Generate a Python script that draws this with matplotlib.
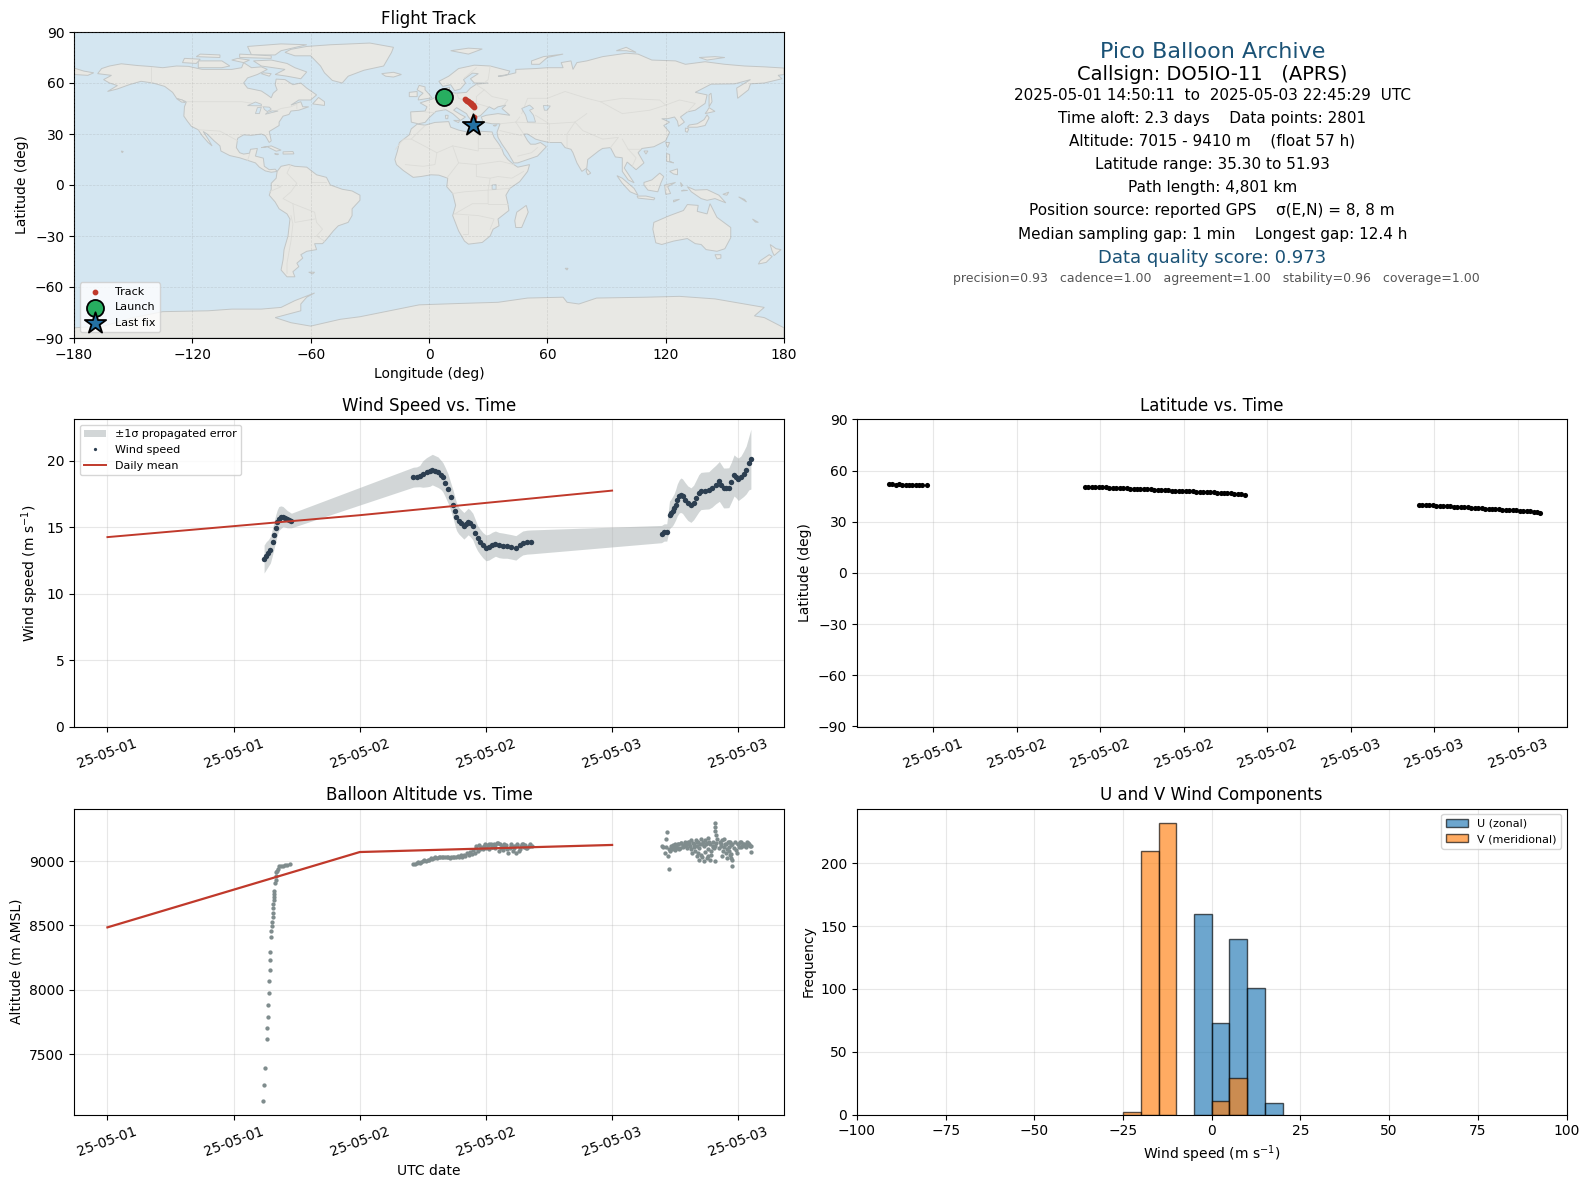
import matplotlib
matplotlib.use("Agg")
import matplotlib.pyplot as plt
import matplotlib.dates as mdates
import numpy as np
from datetime import datetime

# hours since 2025-05-01 00:00 UTC
wind_hours = [14.9,15.1,15.3,15.5,15.7,15.85,16.0,16.15,16.3,16.5,16.7,16.9,17.1,17.3,17.5,
              29.1,29.4,29.7,30.0,30.35,30.65,30.9,31.2,31.45,31.7,31.9,32.15,32.4,32.65,32.9,33.05,33.2,33.4,33.65,33.9,34.1,
              34.3,34.5,34.75,35.0,35.2,35.45,35.7,36.0,36.3,36.6,36.9,37.25,37.6,38.0,38.4,38.85,39.2,39.5,39.9,40.3,
              52.7,52.95,53.2,53.46,53.6,53.75,53.9,54.05,54.2,54.4,54.55,54.7,54.95,55.2,55.5,55.75,56.0,56.25,56.45,
              56.8,57.2,57.5,57.85,58.2,58.4,58.6,58.85,59.1,59.35,59.6,59.8,60.0,60.25,60.5,60.75,61.0,61.2]
wind_speed = [12.6,12.85,13.05,13.3,13.9,14.4,14.9,15.35,15.65,15.75,15.8,15.7,15.6,15.55,15.5,
              18.76,18.78,18.84,19.0,19.13,19.22,19.33,19.22,19.13,18.95,18.76,18.35,17.9,17.3,16.66,16.2,15.8,15.5,15.3,15.1,15.25,
              15.42,15.3,15.05,14.55,14.18,13.9,13.65,13.44,13.5,13.65,13.76,13.65,13.61,13.58,13.52,13.44,13.65,13.81,13.87,13.89,
              14.48,14.6,14.6,15.92,16.05,16.2,16.41,16.7,17.05,17.33,17.4,17.33,17.05,16.8,16.66,16.85,17.2,17.55,17.72,
              17.75,17.77,17.95,18.2,18.44,18.2,17.95,17.95,17.97,18.4,18.89,18.75,18.6,18.75,19.0,19.3,19.8,20.12]
wind_sigma = [1.05,1.05,1.0,1.0,1.0,1.0,1.0,0.95,0.9,0.85,0.75,0.7,0.65,0.6,0.55,
              0.75,0.75,0.8,1.0,1.1,1.15,1.15,1.15,1.15,1.1,1.1,1.1,1.1,1.05,1.05,1.05,1.05,1.0,1.0,1.0,1.0,
              1.0,1.0,1.0,1.0,0.95,0.95,0.95,0.97,0.97,0.97,0.95,0.95,0.95,0.92,0.92,0.92,0.9,0.9,0.9,0.9,
              0.65,0.65,0.65,1.05,1.05,1.1,1.1,1.15,1.2,1.25,1.3,1.3,1.3,1.3,1.3,1.3,1.35,1.4,1.4,
              1.4,1.4,1.45,1.45,1.5,1.5,1.5,1.5,1.5,1.5,1.55,1.55,1.6,1.6,1.7,1.8,2.0,2.25]

mean_hours = [0, 24, 48]
wind_daily = [14.25, 15.9, 17.75]
alt_daily = [8485, 9070, 9125]

alt_hours = [14.83,14.9,14.94,15.2,15.2,15.25,15.3,15.32,15.4,15.42,15.42,15.5,15.55,15.55,15.62,15.67,15.7,15.72,15.72,15.72,15.8,15.8,15.85,15.87,15.92,
             16.0,16.0,16.06,16.1,16.2,16.35,16.5,16.7,16.9,17.1,17.4,
             29.1,29.25,29.4,29.55,29.7,29.85,30.0,30.15,30.3,30.45,30.6,30.75,30.9,31.05,31.2,31.35,31.5,31.65,31.8,31.95,32.1,32.25,32.4,32.55,32.7,
             32.85,33.0,33.15,33.3,33.45,33.6,33.75,33.9,34.05,34.2,34.35,34.5,34.65,34.8,34.95,35.1,35.25,35.4,35.55,35.7,35.85,36.0,36.15,36.3,36.45,
             36.6,36.75,36.9,37.05,37.2,37.35,37.5,37.65,37.8,37.95,38.1,38.25,38.4,38.55,38.7,38.85,39.0,39.15,39.3,39.45,39.6,39.75,39.9,40.05,40.2,40.35,
             52.75,52.8,53.2,53.1,53.05,53.45,53.3,53.1,53.55,53.7,53.85,54.0,54.15,54.3,54.45,54.6,54.75,54.9,55.05,55.2,55.35,55.5,55.55,55.65,55.8,
             55.95,56.1,56.1,56.2,56.3,56.3,56.45,56.55,56.55,56.7,56.7,56.85,57.0,57.0,57.15,57.15,57.3,57.3,57.45,57.6,57.6,57.75,57.75,57.8,57.8,
             57.8,57.85,58.35,58.5,58.5,58.65,58.65,58.8,58.8,58.95,59.1,59.1,59.25,59.25,59.3,59.35,59.4,59.45,59.43,59.85,60.0,60.15,60.3,60.45,60.6,60.75,60.9,61.05,61.2,61.25,
             # the dense parts of the cloud
             53.4,53.6,53.8,53.95,54.1,54.25,54.4,54.55,54.7,54.85,55.0,55.15,55.3,55.45,55.6,55.75,55.9,56.05,56.2,56.35,56.5,56.65,56.8,56.95,57.1,57.25,57.4,57.55,57.7,
             57.9,58.0,58.15,58.25,58.4,58.55,58.7,58.9,59.0,59.15,59.35,59.55,59.65,59.75,59.95,60.1,60.25,60.4,60.55,60.7,60.85,61.0,61.15,
             35.05,35.35,35.65,35.95,36.25,36.55,36.85,37.15,37.45,37.75,38.05,38.35,38.65,38.95,39.25,39.55,39.85,40.15]
alt_m = [7140,7263,7394,7618,7703,7788,7881,7973,8066,8151,8228,8290,8413,8460,8496,8527,8565,8596,8637,8668,8699,8720,8745,8766,8828,
         8853,8887,8912,8925,8938,8959,8964,8959,8968,8972,8975,
         8980,8975,8985,8990,8982,8995,9000,9005,9000,9010,9012,9020,9018,9025,9030,9022,9028,9035,9030,9032,9028,9035,9030,9025,9032,
         9030,9035,9028,9040,9032,9045,9030,9050,9042,9060,9048,9070,9055,9085,9060,9100,9075,9095,9110,9090,9120,9100,9125,9095,9130,
         9110,9135,9105,9140,9075,9130,9115,9085,9110,9125,9060,9105,9130,9080,9120,9060,9130,9075,9115,9135,9110,9125,9100,9120,9130,9115,
         9115,9108,9225,9175,9060,8935,9040,9110,9075,9090,9100,9130,9105,9135,9100,9140,9115,9145,9120,9150,9130,9160,9090,9140,9110,
         9160,9120,9040,9150,9010,9100,9170,9030,9130,9000,9120,9160,9020,9140,9090,9180,9010,9130,9050,9110,9150,9000,9120,9298,9262,
         9235,9205,9130,9160,9040,9110,9170,9060,9130,9020,9150,9080,9150,9050,9125,9023,9130,9008,8961,9060,9130,9145,9110,9135,9120,9110,9140,9125,9115,9070,
         9095,9115,9125,9085,9110,9130,9095,9140,9110,9125,9135,9100,9150,9120,9060,9135,9080,9145,9060,9130,9050,9150,9070,9135,9040,9145,9080,9120,9100,
         9140,9170,9100,9145,9120,9075,9135,9095,9150,9110,9055,9100,9150,9085,9130,9110,9145,9120,9135,9125,9145,9130,9115,
         9115,9125,9105,9130,9135,9110,9125,9140,9100,9135,9090,9120,9100,9125,9095,9130,9105,9120]

lat_hours_1 = [14.83,15.07,15.31,15.55,15.79,16.03,16.27,16.51,16.75,16.99,17.23,17.6]
lat_1 = [51.93,51.9,51.85,51.9,51.8,51.85,51.8,51.75,51.8,51.7,51.75,51.7]
lat_hours_2 = [28.9,29.15,29.4,29.65,29.9,30.15,30.4,30.65,30.9,31.15,31.4,31.65,31.9,32.15,32.4,32.65,32.9,33.15,33.4,33.65,33.9,34.15,34.4,
               34.65,34.9,35.15,35.4,35.65,35.9,36.15,36.4,36.65,36.9,37.15,37.4,37.65,37.9,38.15,38.4,38.65,38.9,39.15,39.4,39.65,39.9,40.15,40.4]
lat_2 = [50.5,50.5,50.4,50.45,50.3,50.2,50.2,50.05,50.0,49.95,49.8,49.75,49.6,49.5,49.45,49.3,49.25,49.1,49.0,49.0,48.85,48.75,48.7,
         48.55,48.5,48.35,48.3,48.2,48.05,48.0,47.85,47.8,47.7,47.55,47.5,47.4,47.25,47.2,47.1,46.95,46.9,46.75,46.7,46.5,46.4,46.1,45.85]
lat_hours_3 = [52.9,53.15,53.4,53.65,53.9,54.15,54.4,54.65,54.9,55.15,55.4,55.65,55.9,56.15,56.4,56.65,56.9,57.15,57.4,
               57.65,57.9,58.15,58.4,58.65,58.9,59.15,59.4,59.65,59.9,60.15,60.4,60.65,60.9,61.15,61.35,61.6]
lat_3 = [40.0,40.0,39.9,39.85,39.7,39.55,39.45,39.3,39.2,39.05,38.95,38.8,38.7,38.55,38.45,38.3,38.2,38.05,37.95,
         37.8,37.7,37.55,37.45,37.3,37.15,37.05,36.9,36.8,36.65,36.55,36.4,36.25,36.1,35.9,35.6,35.3]

track_lon = [7.4,7.8,8.2,18.5,18.9,19.3,19.8,20.3,20.7,21.1,21.5,21.9,22.2,22.5,22.8,22.6,22.5,22.4,22.3,22.3,22.4,22.5]
track_lat = [51.9,51.8,51.7,50.5,50.1,49.6,49.2,48.8,48.4,48.0,47.6,47.2,46.8,46.3,45.8,40.0,39.0,38.0,37.0,36.2,35.7,35.3]
launch_lon, launch_lat = 7.4, 51.6
last_lon, last_lat = 22.5, 35.3

u_edges = [-5, 0, 5, 10, 15]
u_counts = [160, 73, 140, 101, 9]
v_edges = [-25, -20, -15, 0, 5]
v_counts = [2, 210, 232, 11, 29]

date_ticks_12h = [0, 12, 24, 36, 48, 60]
date_ticks_6h = [18, 24, 30, 36, 42, 48, 54, 60]

# rough coastlines, (lon, lat)
land_shapes = [
 [(-168,65.5),(-166,68.5),(-162,70),(-156,71.3),(-148,70.3),(-141,69.7),(-135,69),(-128,70),(-122,69.8),(-115,68),(-108,68),(-100,68),(-95,69),(-94,72),(-90,69),(-85,69.5),(-82,68),(-87,65),(-92,63),(-94,60),(-92,57),(-85,55.3),(-82,53),(-80,51.3),(-79,54),(-77,56),(-78,59),(-77.5,62.3),(-73,62),(-69,59),(-65,60),(-62,57),(-57,53),(-60,50),(-66,50),(-70,47),(-65,49),(-64,46),(-61,46),(-66,44),(-70,43.5),(-71,41.5),(-74,40.5),(-76,37),(-76,35),(-81,31.5),(-80,26),(-81,25),(-83,29),(-85,30),(-90,29.2),(-94,29.5),(-97,27.5),(-97.7,22),(-96,19),(-94,18.2),(-91,18.7),(-90.5,21),(-87,21.5),(-88,17),(-84,15.8),(-83.5,11),(-81,9),(-78,9.3),(-77,8),(-80,7.5),(-83,8.3),(-86,10.5),(-88,13),(-92,14.5),(-96,16),(-101,17.3),(-105.5,20),(-106,23),(-109,26),(-112.5,30),(-114.5,31.5),(-112,27),(-110,23),(-112,25),(-115,29),(-117,32.5),(-120.5,34.5),(-122.5,37.5),(-124.3,40.5),(-124,46),(-123,49),(-128,51),(-130,54.5),(-134,58),(-140,60),(-146,61),(-152,59),(-158,56.5),(-163,55),(-158,58.5),(-162,60),(-165,62),(-161,64.5)],
 [(-73,78),(-68,76),(-60,76),(-55,70),(-53,66),(-49,61.5),(-44,60),(-41,64),(-33,67.5),(-23,70),(-21,74),(-19,78),(-18,81),(-30,83.5),(-50,82.5),(-62,81.5),(-70,79.8)],
 [(-80,73.5),(-72,71.5),(-68,69),(-62,66.5),(-65,62.5),(-72,64),(-78,65),(-73,68),(-85,70),(-89,73)],
 [(-117,69),(-105,69),(-101,70),(-105,73),(-117,73)],
 [(-90,76.5),(-78,76.5),(-75,79),(-62,82.5),(-75,83),(-92,81.5)],
 [(-125,72),(-118,71.5),(-116,74),(-124,74.5)],
 [(-96,75),(-80,74.5),(-80,76),(-96,77)],
 [(-118,75.5),(-106,75),(-106,76.5),(-116,77)],
 [(-100,73.5),(-94,72),(-91,73.5),(-97,74.5)],
 [(-85,65.5),(-81,64),(-80,65.5),(-84,66)],
 [(-128,50.8),(-125,50),(-123.5,48.5),(-125.5,48.8)],
 [(-59,47.7),(-53,46.8),(-53,49),(-56,51.5)],
 [(-85,22),(-80,23),(-75,20.5),(-77.5,19.9),(-82,22.5)],
 [(-74,19.5),(-69,19.7),(-68.5,18.3),(-74,18.2)],
 [(-78.3,18.4),(-76.3,18.2),(-77,17.8)],
 [(-156,20),(-155,19.7),(-155.6,19)],
 [(-61,-51.3),(-58,-51.3),(-59,-52.3)],
 [(-24,65.5),(-18,66.3),(-14,65),(-18,63.5),(-22,64)],
 [(-77,8),(-75,11),(-71,12),(-68,11),(-62,10.5),(-57,6),(-52,4.5),(-50,0),(-44,-2.5),(-39,-3.5),(-35,-6),(-35,-9),(-39,-14),(-39,-18),(-41,-22),(-46,-24),(-48.5,-27),(-52,-32),(-54,-34.5),(-58,-34.5),(-57,-38),(-62,-39),(-65,-41),(-64,-43),(-67,-46),(-66,-48),(-69,-51),(-68,-54),(-72,-54),(-75,-50),(-74,-44),(-73.5,-38),(-71.5,-30),(-70.5,-20),(-72,-17),(-76,-14),(-78,-10),(-81,-6),(-80,-2.5),(-80,1),(-77.5,4)],
 [(-6,35.8),(-2,35.2),(3,36.8),(10,37.3),(11,34),(15,32.3),(20,31),(20,32.8),(25,31.7),(32,31.2),(33,28),(35.5,24),(37,21),(38,18),(40,15),(43,12),(45,10.5),(51,12),(50,8),(46,2),(41,-2),(39,-6),(40,-11),(40.5,-15),(35,-20),(35.5,-24),(32.5,-26),(31,-30),(27,-33.8),(20,-34.8),(18,-33),(15,-27),(12,-18),(13.5,-12),(12,-5),(9,-1),(9.5,4),(5,5.8),(1,6),(-4,5),(-8,4.5),(-13,8.5),(-16.5,12),(-17.3,15),(-16,20),(-15,25),(-10,29.5),(-9,33)],
 [(49.3,-12),(50.3,-16),(47,-25),(44,-25),(43.5,-21),(44.5,-16)],
 [(-9,37),(-9.3,43),(-2,43.5),(-1,46),(-4.5,48.3),(1.5,50.5),(4,52),(8,54),(8.5,57),(10.5,57.5),(10,54.5),(14,54),(19,54.5),(21,57),(24,59.3),(30,60),(23,60),(21,62.5),(25,65.5),(22,65.8),(17.5,62),(18.5,60),(16,56.5),(13,55.5),(11,59),(7,58),(5,61),(10,64),(15,68.5),(23,70.5),(31,70),(41,67),(40,65),(35,64),(37,64),(44,66),(44,68),(54,68.5),(60,69),(68,69),(67,72),(72,73),(73,68),(75,72),(80,73),(88,75.5),(100,77.5),(106,77),(113,73.5),(125,73),(130,71),(140,72.5),(150,71),(160,70),(170,69.5),(180,68.8),(180,65),(177,64.5),(179,62.5),(170,60),(163,59.5),(162,56),(156.5,51),(156,57),(163,62),(155,59.5),(143,59.3),(135,54.5),(141,53),(140,48),(135,44),(131,43),(127.5,40),(129.5,37),(126.5,34.5),(126,37.5),(124.5,40),(121,39),(118,39),(122,37),(119,35),(122,31),(120,26),(114,22.5),(108,21.5),(106,19),(109,13),(105,9),(103,11),(100.5,13.5),(99,10),(103,3),(104,1.3),(101,3),(98,8),(98,16),(94.5,16.5),(92,22),(88,21.5),(86,20),(80.5,15),(80,10),(77.5,8),(75,13),(73,19),(72,21),(69,22),(67,25),(61,25),(57,26),(54,27),(50,30),(48,30),(50,26),(51.5,24),(54,24),(56.5,25),(59.5,22.5),(55,17),(45,13),(43,13),(40,19),(37,24),(35,28),(34.5,31),(36,36),(32,36),(27.5,37),(26.5,40),(29,41),(35,42),(41,41),(37,45),(39,47),(35,46),(33,44.5),(30.5,46),(28,43),(26,40.7),(23.5,40),(24,38),(22.5,36.7),(20,40),(19,42),(14,45.5),(12.5,44),(16,41.5),(18.5,40),(16,38),(12,42),(8.5,44.3),(3.5,43.3),(0,39.5),(-2,36.8),(-5.5,36)],
 [(-180,68.8),(-175,67),(-170,66),(-173,64.5),(-180,65)],
 [(-5.5,50),(1.5,51.3),(0,53.5),(-2,56),(-2,57.7),(-5,58.6),(-6,56),(-3,54),(-5,52)],
 [(-10,52),(-6,52),(-6,55),(-10,54.5)],
 [(11,79),(20,80.5),(27,80),(20,77)],
 [(52,71),(56,71),(60,75),(68,77),(58,75.5),(52,73)],
 [(95,79),(100,79),(105,78),(100,81)],[(137,75),(145,75.5),(150,75),(141,73.5)],
 [(12.5,38),(15.5,38),(15,36.7)],[(8.3,41),(9.7,41),(9.5,39),(8.5,39)],[(23.5,35.5),(26.3,35.2),(24.5,34.9)],[(32.5,35),(34.5,35.5),(33.5,34.6)],
 [(131,34),(136,34),(140,35),(142,39.5),(141,41.3),(139.5,38.5),(136,36),(132,35.3)],
 [(140,42),(145,43.3),(142,45.5),(141,43.5)],
 [(130,33.5),(131.7,33),(131,31),(130,31.5)],
 [(142,46),(143.5,49),(143,54),(142,53)],
 [(120,25),(122,25),(121,22)],[(109,20),(111,20),(110,18.2)],
 [(80,9.5),(82,7),(80.5,6),(79.7,8)],
 [(120.5,18.5),(122,18),(122,14),(124,13),(120.5,14)],
 [(122,8),(126,9.5),(126,6),(124,6.5)],
 [(109,1.5),(113,3),(117,7),(119,5),(117.5,1),(116,-4),(111,-3),(109,0)],
 [(95.3,5.5),(98,4),(104,-2),(106,-6),(102,-4),(98,1)],
 [(105.5,-6.5),(110,-6.5),(114.5,-7.7),(114,-8.7),(106,-7.7)],
 [(119.5,0),(125,1.5),(121,-1),(122.5,-5),(120,-5.5)],
 [(124,-9),(127,-8.4),(124,-10)],[(127.5,1.5),(128.5,0),(128,-1)],[(129,-3),(131,-3.2),(128,-3.5)],
 [(131,-1),(135,-3),(141,-2.7),(147,-6),(150.5,-10.5),(145,-8),(141,-9),(138,-8),(133,-4)],
 [(149,-5.5),(152,-4.2),(151,-6)],[(157,-7),(160,-8.5),(161,-10)],[(164,-20),(167,-22),(165.5,-21.8)],
 [(114,-22),(113.5,-26),(115,-34),(118,-35),(124,-33),(131,-31.5),(135,-34.5),(138,-35),(140.5,-38),(146,-39),(150,-37.5),(153,-31),(153,-25),(146,-19),(142.5,-11),(141,-17),(136,-15.5),(136.5,-12),(131,-11.5),(129,-15),(122,-18)],
 [(145,-41),(148,-41),(148,-43),(146,-43.5)],
 [(173,-35),(176,-37.5),(178.5,-38),(175,-41.5),(174,-39)],
 [(172.5,-41),(174,-42),(171,-45.5),(167,-46.5),(168,-44.5)],
 [(69,-49),(70.5,-49),(70,-50)],
 [(-180,-84),(-165,-83),(-150,-78),(-135,-74.5),(-112,-74),(-100,-73),(-85,-73),(-75,-72),(-68,-68),(-58,-63.5),(-62,-66),(-65,-70),(-65,-74),(-78,-78),(-70,-81),(-60,-83),(-45,-79),(-35,-77.5),(-20,-74),(-5,-70.5),(15,-69.7),(35,-69),(50,-66.5),(68,-66),(70,-69),(76,-70),(85,-66.5),(110,-66),(127,-65.5),(145,-67),(160,-70),(170,-72),(165,-77),(170,-78),(180,-84),(180,-90),(-180,-90)],
]
inland_water = [
 [(47,45),(51,47),(53,45),(51,44),(53,41),(54,37),(50,37),(49,41)],
 [(-92,46.7),(-88,48.8),(-85,47.5),(-85,46.6),(-88,46.6)],
 [(-88,42),(-86,42),(-85,45.8),(-87,45.5)],
 [(-84,46),(-81,45.8),(-80,44.6),(-82,43.2),(-83.5,44.5)],
 [(-83,41.6),(-79,42.8),(-76.5,43.5),(-79.5,43.6),(-82,42.6)],
 [(32,0),(34,0.3),(34,-2.5),(32,-2.5)],
 [(58,46.8),(61.5,46.5),(60,44),(58.5,44)],
]
borders = [
 [(-123,49),(-95,49),(-89,48),(-83,45.5),(-79,43),(-75,45),(-70,46),(-67,47.5),(-67,45)],
 [(-141,69.7),(-141,60)],[(-117,32.5),(-106,31.7),(-97,26)],[(-92,14.5),(-91,18)],
 [(-70,12),(-72,7),(-67,1),(-70,-4),(-74,-8),(-69,-11),(-58,-16),(-57,-22),(-54,-26),(-57,-30),(-53,-33)],
 [(-70,-18),(-69,-23),(-70,-33),(-72,-46),(-72,-52)],[(-60,8),(-60,2),(-52,2)],[(-69,-11),(-68,-22),(-58,-20)],[(-78,0),(-75,-1),(-81,-4)],
 [(-2,35),(-9,27),(-13,27),(-17,21)],[(-9,27),(4,19),(12,23),(25,20),(25,31.5)],[(25,22),(37,22)],[(4,19),(3,12),(-3,11),(-12,12)],
 [(12,23),(15,13),(9,4)],[(15,13),(24,12),(24,5),(31,4),(35,5),(42,4),(48,8)],[(24,12),(36,14),(43,12)],[(12,-5),(18,-4),(30,-3),(30,-11),(22,-11),(13,-17)],
 [(30,-11),(40,-11)],[(13,-17),(25,-18),(33,-20),(31,-26)],[(20,-18),(20,-29),(17,-29)],[(31,4),(30,-3),(41,-2)],
 [(-2,43),(3,42.5)],[(3,50.5),(8,49),(7.5,44)],[(7,53.5),(8,49)],[(14,54),(15,51),(19,49.5),(24,48),(22,42)],[(24,59),(28,56),(24,52),(24,48),(30,46)],[(28,56),(32,52),(40,50),(38,47)],
 [(31,70),(30,62),(28,60)],[(24,69),(18,63)],[(47,42),(50,51),(60,51),(69,55),(80,51),(87,49)],[(54,41),(61,36),(61,29),(61,25)],[(61,36),(74,37),(70,30),(70,22)],[(74,37),(78,32),(88,27),(96,28),(92,22)],
 [(80,42),(74,37)],[(87,49),(98,42),(112,44),(120,47),(117,50),(98,51),(87,49)],[(120,47),(127,50),(135,48),(131,43)],[(98,27),(101,21),(107,21)],[(101,21),(105,16),(103,11)],
 [(36,36),(44,37),(48,30)],[(44,37),(46,40)],[(44,37),(61,36)],[(36,32),(47,29)],[(45,17),(52,19),(55,22)],
]

TIME_ZERO = mdates.date2num(datetime(2025, 5, 1))
W, H = 1589, 1189
OCEAN = "#d4e6f1"
COAST = "#c2c6c6"


def to_dates(hours):
    return TIME_ZERO + np.array(hours, dtype=float) / 24.0


def make_axes(left, top, right, bottom):
    return fig.add_axes([left / W, 1 - bottom / H, (right - left) / W, (bottom - top) / H])


def date_axis(ax, ticks):
    ax.set_xticks(to_dates(ticks))
    ax.xaxis.set_major_formatter(mdates.DateFormatter("%y-%m-%d"))
    ax.tick_params(axis="x", rotation=20)


fig = plt.figure(figsize=(15.89, 11.89), dpi=100)
LEFT = (74, 784)
RIGHT = (857, 1566.5)

# --- map
ax = make_axes(LEFT[0], 32, LEFT[1], 338)
ax.set_facecolor(OCEAN)
for shape in land_shapes:
    xs, ys = zip(*shape)
    ax.fill(xs, ys, facecolor="#e8e8e4", edgecolor=COAST, linewidth=0.7, zorder=1)
for shape in inland_water:
    xs, ys = zip(*shape)
    ax.fill(xs, ys, facecolor=OCEAN, edgecolor=COAST, linewidth=0.6, zorder=1.1)
for line in borders:
    xs, ys = zip(*line)
    ax.plot(xs, ys, color="#dcdcd8", linewidth=0.6, zorder=1.05)
ax.scatter(track_lon, track_lat, s=10, color="#c0392b", zorder=3, label="Track")
ax.scatter([launch_lon], [launch_lat], s=150, color="#27ae60", edgecolor="black", linewidth=1.3, zorder=4, label="Launch")
ax.scatter([last_lon], [last_lat], s=260, marker="*", color="#2471a3", edgecolor="black", linewidth=1.3, zorder=5, label="Last fix")
ax.set_xlim(-180, 180)
ax.set_ylim(-90, 90)
ax.set_xticks(range(-180, 181, 60))
ax.set_yticks(range(-90, 91, 30))
ax.grid(True, linestyle="--", linewidth=0.5, color="gray", alpha=0.22, zorder=2)
ax.set_axisbelow(False)
ax.set_xlabel("Longitude (deg)")
ax.set_ylabel("Latitude (deg)")
ax.set_title("Flight Track")
ax.legend(loc="lower left", fontsize=8)

# --- summary text
info_x = 1212.2 / W
info_lines = [
    (51.5, "Pico Balloon Archive", 16, "#1a5276"),
    (74, "Callsign: DO5IO-11   (APRS)", 14, "black"),
    (95, "2025-05-01 14:50:11  to  2025-05-03 22:45:29  UTC", 11, "black"),
    (118, "Time aloft: 2.3 days    Data points: 2801", 11, "black"),
    (141.5, "Altitude: 7015 - 9410 m    (float 57 h)", 11, "black"),
    (164, "Latitude range: 35.30 to 51.93", 11, "black"),
    (187.5, "Path length: 4,801 km", 11, "black"),
    (211, "Position source: reported GPS    σ(E,N) = 8, 8 m", 11, "black"),
    (234, "Median sampling gap: 1 min    Longest gap: 12.4 h", 11, "black"),
    (258, "Data quality score: 0.973", 13, "#1a5276"),
]
for y, txt, size, col in info_lines:
    fig.text(info_x, 1 - y / H, txt, fontsize=size, color=col, ha="center", va="center")
fig.text(1216 / W, 1 - 279 / H, "precision=0.93   cadence=1.00   agreement=1.00   stability=0.96   coverage=1.00",
         fontsize=9, color="#555555", ha="center", va="center")

# --- wind speed
ax = make_axes(LEFT[0], 419.5, LEFT[1], 726.5)
wx = to_dates(wind_hours)
wv = np.array(wind_speed)
ws = np.array(wind_sigma)
ax.fill_between(wx, wv - ws, wv + ws, color="#7f8c8d", alpha=0.35, linewidth=0, label="±1σ propagated error")
ax.plot(wx, wv, "o", color="#2c3e50", markersize=3.9, markeredgewidth=0, label="Wind speed")
ax.plot(to_dates(mean_hours), wind_daily, color="#c0392b", linewidth=1.4, label="Daily mean")
ax.set_xlim(to_dates([-3.18, 64.35]))
ax.set_ylim(0, 23.1)
ax.set_yticks(range(0, 21, 5))
date_axis(ax, date_ticks_12h)
ax.grid(True, alpha=0.3)
ax.set_ylabel("Wind speed (m s$^{-1}$)")
ax.set_title("Wind Speed vs. Time")
ax.legend(loc="upper left", fontsize=8, markerscale=0.6)

# --- latitude
ax = make_axes(RIGHT[0], 419.5, RIGHT[1], 726.5)
ax.plot(to_dates(lat_hours_1 + lat_hours_2 + lat_hours_3), lat_1 + lat_2 + lat_3, "o", color="black", markersize=3.7, markeredgewidth=0)
ax.set_xlim(to_dates([12.54, 63.5]))
ax.set_ylim(-90, 90)
ax.set_yticks(range(-90, 91, 30))
date_axis(ax, date_ticks_6h)
ax.grid(True, alpha=0.3)
ax.set_ylabel("Latitude (deg)")
ax.set_title("Latitude vs. Time")

# --- altitude
ax = make_axes(LEFT[0], 808.5, LEFT[1], 1114.5)
ax.plot(to_dates(alt_hours), alt_m, "o", color="#7f8c8d", markersize=3.1, markeredgewidth=0)
ax.plot(to_dates(mean_hours), alt_daily, color="#c0392b", linewidth=1.6)
ax.set_xlim(to_dates([-3.18, 64.35]))
ax.set_ylim(7032, 9408)
ax.set_yticks(range(7500, 9001, 500))
date_axis(ax, date_ticks_12h)
ax.grid(True, alpha=0.3)
ax.set_xlabel("UTC date")
ax.set_ylabel("Altitude (m AMSL)")
ax.set_title("Balloon Altitude vs. Time")

# --- histogram
ax = make_axes(RIGHT[0], 808.5, RIGHT[1], 1114.5)
ax.bar(u_edges, u_counts, width=5, align="edge", color="tab:blue", alpha=0.65, edgecolor="black", label="U (zonal)")
ax.bar(v_edges, v_counts, width=5, align="edge", color="tab:orange", alpha=0.65, edgecolor="black", label="V (meridional)")
ax.set_xlim(-100, 100)
ax.set_ylim(0, 243.6)
ax.set_xticks(range(-100, 101, 25))
ax.set_yticks(range(0, 201, 50))
ax.grid(True, alpha=0.3)
ax.set_axisbelow(True)
ax.set_xlabel("Wind speed (m s$^{-1}$)")
ax.set_ylabel("Frequency")
ax.set_title("U and V Wind Components")
ax.legend(loc="upper right", fontsize=8)

fig.savefig("out.png", dpi=100)
